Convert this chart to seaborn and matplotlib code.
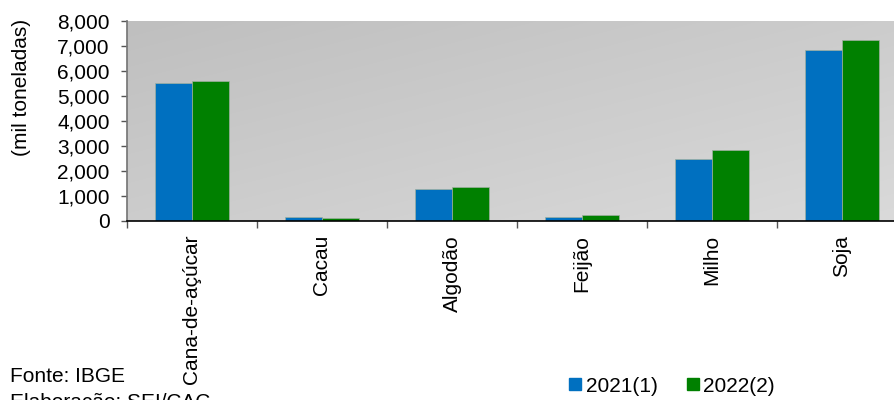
import numpy as np
import pandas as pd
import seaborn as sns
import matplotlib.pyplot as plt
from matplotlib.colors import LinearSegmentedColormap
from matplotlib.ticker import FuncFormatter
from matplotlib.lines import Line2D

categorias = ["Cana-de-açúcar", "Cacau", "Algodão", "Feijão", "Milho", "Soja"]
safra_2021 = [5520, 150, 1270, 170, 2490, 6840]
safra_2022 = [5590, 110, 1350, 240, 2830, 7240]
series = ["2021(1)", "2022(2)"]
cores = ["#0070C0", "#008000"]

df = pd.DataFrame({
    "Produto": categorias * 2,
    "Ano": [series[0]] * len(categorias) + [series[1]] * len(categorias),
    "Valor": safra_2021 + safra_2022,
})

sns.set_theme(style="white")
plt.rcParams["font.family"] = ["Liberation Sans", "DejaVu Sans"]
plt.rcParams["text.color"] = "black"
plt.rcParams["xtick.color"] = "black"
plt.rcParams["ytick.color"] = "black"

fig = plt.figure(figsize=(8.95, 4.0), dpi=100)
ax = fig.add_axes([127 / 895, 1 - 221 / 400, 780 / 895, 200 / 400])

# fundo em degradê (mais escuro no canto superior esquerdo)
xx, yy = np.meshgrid(np.linspace(0, 1, 200), np.linspace(0, 1, 200))
grad = 0.5 * xx + 0.5 * yy
ax.imshow(grad, cmap=LinearSegmentedColormap.from_list("g", ["#bfbfbf", "#dadada"]),
          extent=[0, 1, 0, 1], transform=ax.transAxes,
          aspect="auto", zorder=0, origin="upper")

sns.barplot(data=df, x="Produto", y="Valor", hue="Ano", palette=cores,
            width=0.57, ax=ax, legend=False, saturation=1, zorder=2,
            linewidth=0.5, edgecolor="#9fb0a0")

ax.set_xlim(-0.5, 5.5)
ax.set_ylim(0, 8000)
ax.set_yticks(range(0, 8001, 1000))
ax.yaxis.set_major_formatter(FuncFormatter(lambda v, p: f"{int(v):,}"))
ax.set_xlabel("")
ax.set_ylabel("")

ax.set_xticks(range(len(categorias)))
ax.set_xticklabels(categorias, rotation=90, ha="center", va="top")
ax.set_xticks(np.arange(-0.5, 6, 1), minor=True)
ax.tick_params(axis="x", which="major", length=0, pad=10, labelsize=15)
ax.tick_params(axis="x", which="minor", length=5, width=1, color="#555555",
               direction="out", bottom=True)
ax.tick_params(axis="y", length=4.5, width=1, color="#555555", direction="out",
               left=True, labelsize=15, pad=8)

for s in ["top", "right"]:
    ax.spines[s].set_visible(False)
ax.spines["left"].set_color("#777777")
ax.spines["bottom"].set_color("black")
ax.spines["bottom"].set_linewidth(1.2)

fig.text(22 / 895, 1 - 87 / 400, "(mil toneladas)", rotation=90,
         ha="center", va="center", fontsize=15)
fig.text(10 / 895, 1 - 377 / 400, "Fonte: IBGE", ha="left", va="center",
         fontsize=15)
fig.text(10 / 895, 1 - 403 / 400, "Elaboração: SEI/CAC", ha="left",
         va="center", fontsize=15)

handles = [Line2D([], [], marker="s", linestyle="", markersize=9, color=c)
           for c in cores]
fig.legend(handles, series, loc="center left", ncol=2, frameon=False,
           bbox_to_anchor=(546 / 895, 1 - 386 / 400), fontsize=15,
           handletextpad=0.0, columnspacing=1.2, handlelength=1.0)

fig.savefig("out.png", dpi=100)
